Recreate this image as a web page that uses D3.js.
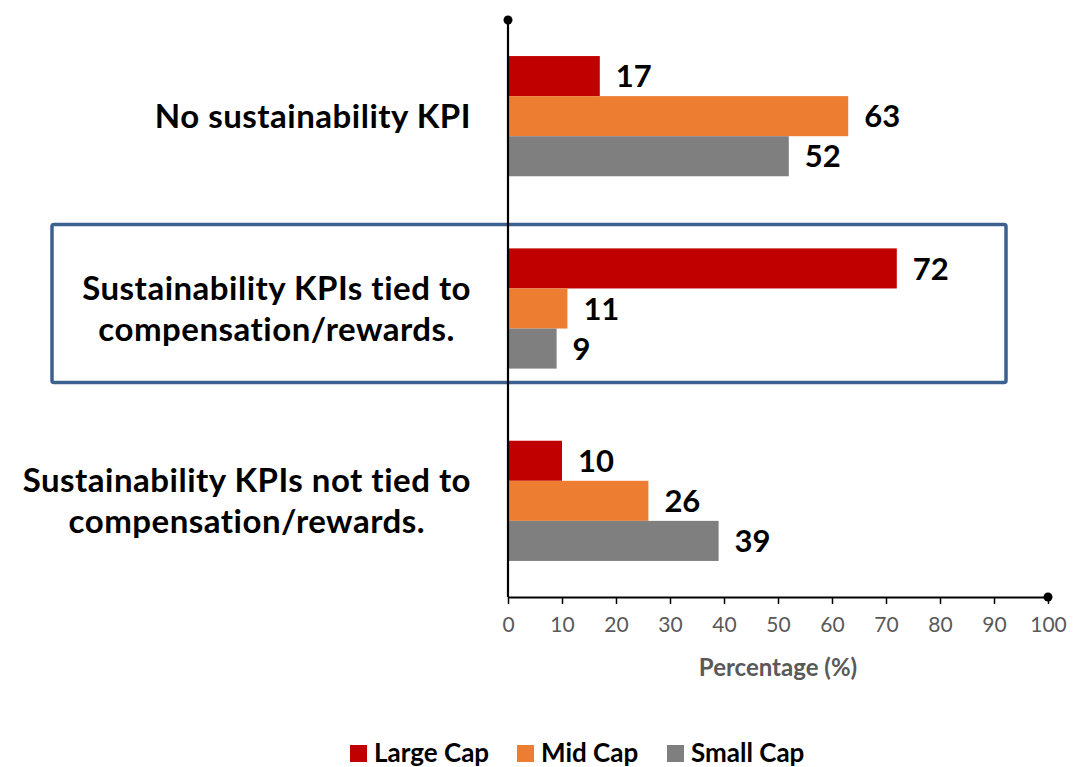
<!DOCTYPE html>
<html>
<head>
<meta charset="utf-8">
<script src="https://cdn.jsdelivr.net/npm/d3@7"></script>
<style>
  html, body { margin: 0; padding: 0; background: #fff; }
  svg { display: block; font-family: Lato, "Noto Sans", sans-serif; }
</style>
</head>
<body>
<svg id="chart" width="1088" height="767"></svg>
<script>
// Survey categories (top to bottom) and share of firms in each cap segment
const categories = [
  ["No sustainability KPI"],
  ["Sustainability KPIs tied to", "compensation/rewards."],
  ["Sustainability KPIs not tied to", "compensation/rewards."]
];
const seriesNames = ["Large Cap", "Mid Cap", "Small Cap"];
const seriesColors = ["#C00000", "#ED7D31", "#7F7F7F"];
const largeCap = [17, 72, 10];
const midCap = [63, 11, 26];
const smallCap = [52, 9, 39];
const xTicks = [0, 10, 20, 30, 40, 50, 60, 70, 80, 90, 100];
const highlightedCategory = 1;

const values = [largeCap, midCap, smallCap];
const svg = d3.select("#chart");

const plot = { left: 508, right: 1048, top: 20, bottom: 597 };

const x = d3.scaleLinear().domain([0, 100]).range([plot.left, plot.right]);
const y = d3.scaleBand().domain(d3.range(categories.length))
  .range([plot.top, plot.bottom]).paddingInner(0.375).paddingOuter(0.1875);
const ySub = d3.scaleBand().domain(d3.range(seriesNames.length)).range([0, y.bandwidth()]);

// Highlight frame around one category
const hb = y(highlightedCategory);
svg.append("rect")
  .attr("x", 52).attr("y", hb - 24)
  .attr("width", 954).attr("height", y.bandwidth() + 38)
  .attr("rx", 2)
  .attr("fill", "none").attr("stroke", "#3C6090").attr("stroke-width", 3.5);

// Bars
const groups = svg.append("g").selectAll("g")
  .data(categories).join("g")
  .attr("transform", (d, i) => `translate(0,${y(i)})`);

const labelRight = 471;

groups.each(function (cat, ci) {
  const g = d3.select(this);
  seriesNames.forEach((s, si) => {
    const v = values[si][ci];
    g.append("rect")
      .attr("x", x(0)).attr("y", ySub(si))
      .attr("width", x(v) - x(0)).attr("height", ySub.bandwidth())
      .attr("fill", seriesColors[si]);
    g.append("text")
      .attr("x", x(v) + 16).attr("y", ySub(si) + ySub.bandwidth() / 2)
      .attr("dy", "0.36em")
      .attr("font-size", 31).attr("font-weight", 700).attr("fill", "#000")
      .text(v);
  });
  // Category label: block right-aligned to the axis gap, lines centred within it
  const lh = 41;
  const t = g.append("text")
    .attr("font-size", 33).attr("font-weight", 700).attr("fill", "#000")
    .attr("letter-spacing", 0.5);
  const spans = cat.map((ln, li) => t.append("tspan")
    .attr("y", y.bandwidth() / 2 + (li - (cat.length - 1) / 2) * lh)
    .attr("dy", "0.36em")
    .text(ln));
  const widths = spans.map(s => s.node().getComputedTextLength());
  const blockW = d3.max(widths);
  spans.forEach((s, i) => s.attr("x", labelRight - blockW / 2 - widths[i] / 2));
});

// Vertical category axis line with end marker
svg.append("line")
  .attr("x1", x(0)).attr("x2", x(0))
  .attr("y1", plot.top).attr("y2", plot.bottom)
  .attr("stroke", "#000").attr("stroke-width", 2.2);
svg.append("circle").attr("cx", x(0)).attr("cy", plot.top).attr("r", 4.5).attr("fill", "#000");

// Value axis
const xAxis = svg.append("g")
  .attr("transform", `translate(0,${plot.bottom})`)
  .call(d3.axisBottom(x).tickValues(xTicks).tickSize(7).tickPadding(13).tickSizeOuter(0));
xAxis.select(".domain").attr("stroke", "#000").attr("stroke-width", 2.2);
xAxis.selectAll(".tick line").attr("stroke", "#000").attr("stroke-width", 1.5);
xAxis.selectAll(".tick text")
  .attr("font-size", 21).attr("fill", "#595959")
  .attr("font-family", "Lato, 'Noto Sans', sans-serif");
svg.append("circle").attr("cx", x(100)).attr("cy", plot.bottom).attr("r", 4.5).attr("fill", "#000");

svg.append("text")
  .attr("x", (x(0) + x(100)) / 2).attr("y", 667).attr("dy", "0.36em")
  .attr("text-anchor", "middle")
  .attr("font-size", 24).attr("font-weight", 700).attr("fill", "#595959")
  .text("Percentage (%)");

// Legend
const legendX = [350, 517, 667];
const legend = svg.append("g").selectAll("g")
  .data(seriesNames).join("g")
  .attr("transform", (d, i) => `translate(${legendX[i]},753)`);
legend.append("rect")
  .attr("x", 0).attr("y", -8).attr("width", 17).attr("height", 17)
  .attr("fill", (d, i) => seriesColors[i]);
legend.append("text")
  .attr("x", 24).attr("y", 0).attr("dy", "0.36em")
  .attr("font-size", 26).attr("font-weight", 700).attr("fill", "#000")
  .text(d => d);
</script>
</body>
</html>
